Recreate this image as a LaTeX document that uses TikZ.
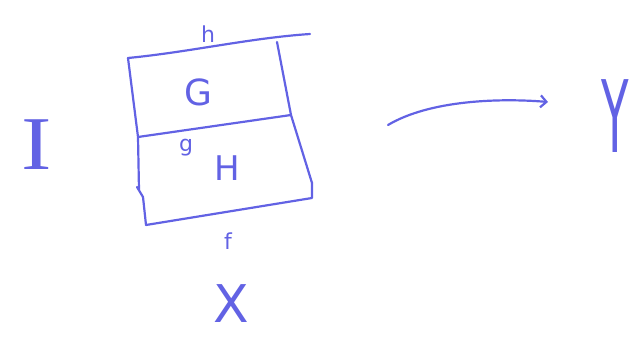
\documentclass[tikz,border=0pt]{standalone}
\usepackage{fontspec}
\setmainfont{DejaVu Sans}
\newfontfamily\serifhand{Liberation Serif}
\usetikzlibrary{arrows.meta}
\definecolor{ink}{RGB}{98,98,228}
\begin{document}
\begin{tikzpicture}[x=1pt,y=-1pt,
  pen/.style={draw=ink,line width=2.2pt,line cap=round,line join=round},
  lbl/.style={text=ink,inner sep=0pt},
  big/.style={lbl,font=\fontsize{#1}{#1}\selectfont}]
\useasboundingbox (0,0) rectangle (640,339);
% box corners
\coordinate (tl) at (128,58);
\coordinate (te) at (310,34);
\coordinate (tr) at (277,42);
\coordinate (mr) at (291,115);
\coordinate (ml) at (138,137);
\coordinate (br) at (312,183);
\coordinate (bl) at (146,225);
\coordinate (brr) at (312,198);
\draw[pen] (tl) .. controls (190,52) and (250,38) .. (te);
\draw[pen] (tl) -- (ml) -- (139,190) -- (137,187) -- (143,197) -- (bl) -- (brr) -- (br);
\draw[pen] (tr) -- (mr) -- (br);
\draw[pen] (ml) -- (mr);
% labels
\node[big=22] (h) at (208,34) {h};
\node[big=36] (G) at (198,92) {G};
\node[big=22] (g) at (186,148) {g};
\node[big=34] (H) at (227,168) {H};
\node[big=22] (f) at (228,241) {f};
\node[big=52] (X) at (231,304) {X};
\node[lbl,font=\serifhand\fontsize{76}{76}\selectfont] (I) at (37,145) {\scalebox{1.2}[1]{I}};
\node[big=100] (Y) at (615,116) {\scalebox{0.45}[1]{Y}};
% arrow
\coordinate (a0) at (388,125);
\coordinate (a1) at (548,102);
\draw[pen,-{Straight Barb[length=6pt,width=12pt]}] (a0) .. controls (430,100) and (500,98) .. (a1);
\end{tikzpicture}
\end{document}
